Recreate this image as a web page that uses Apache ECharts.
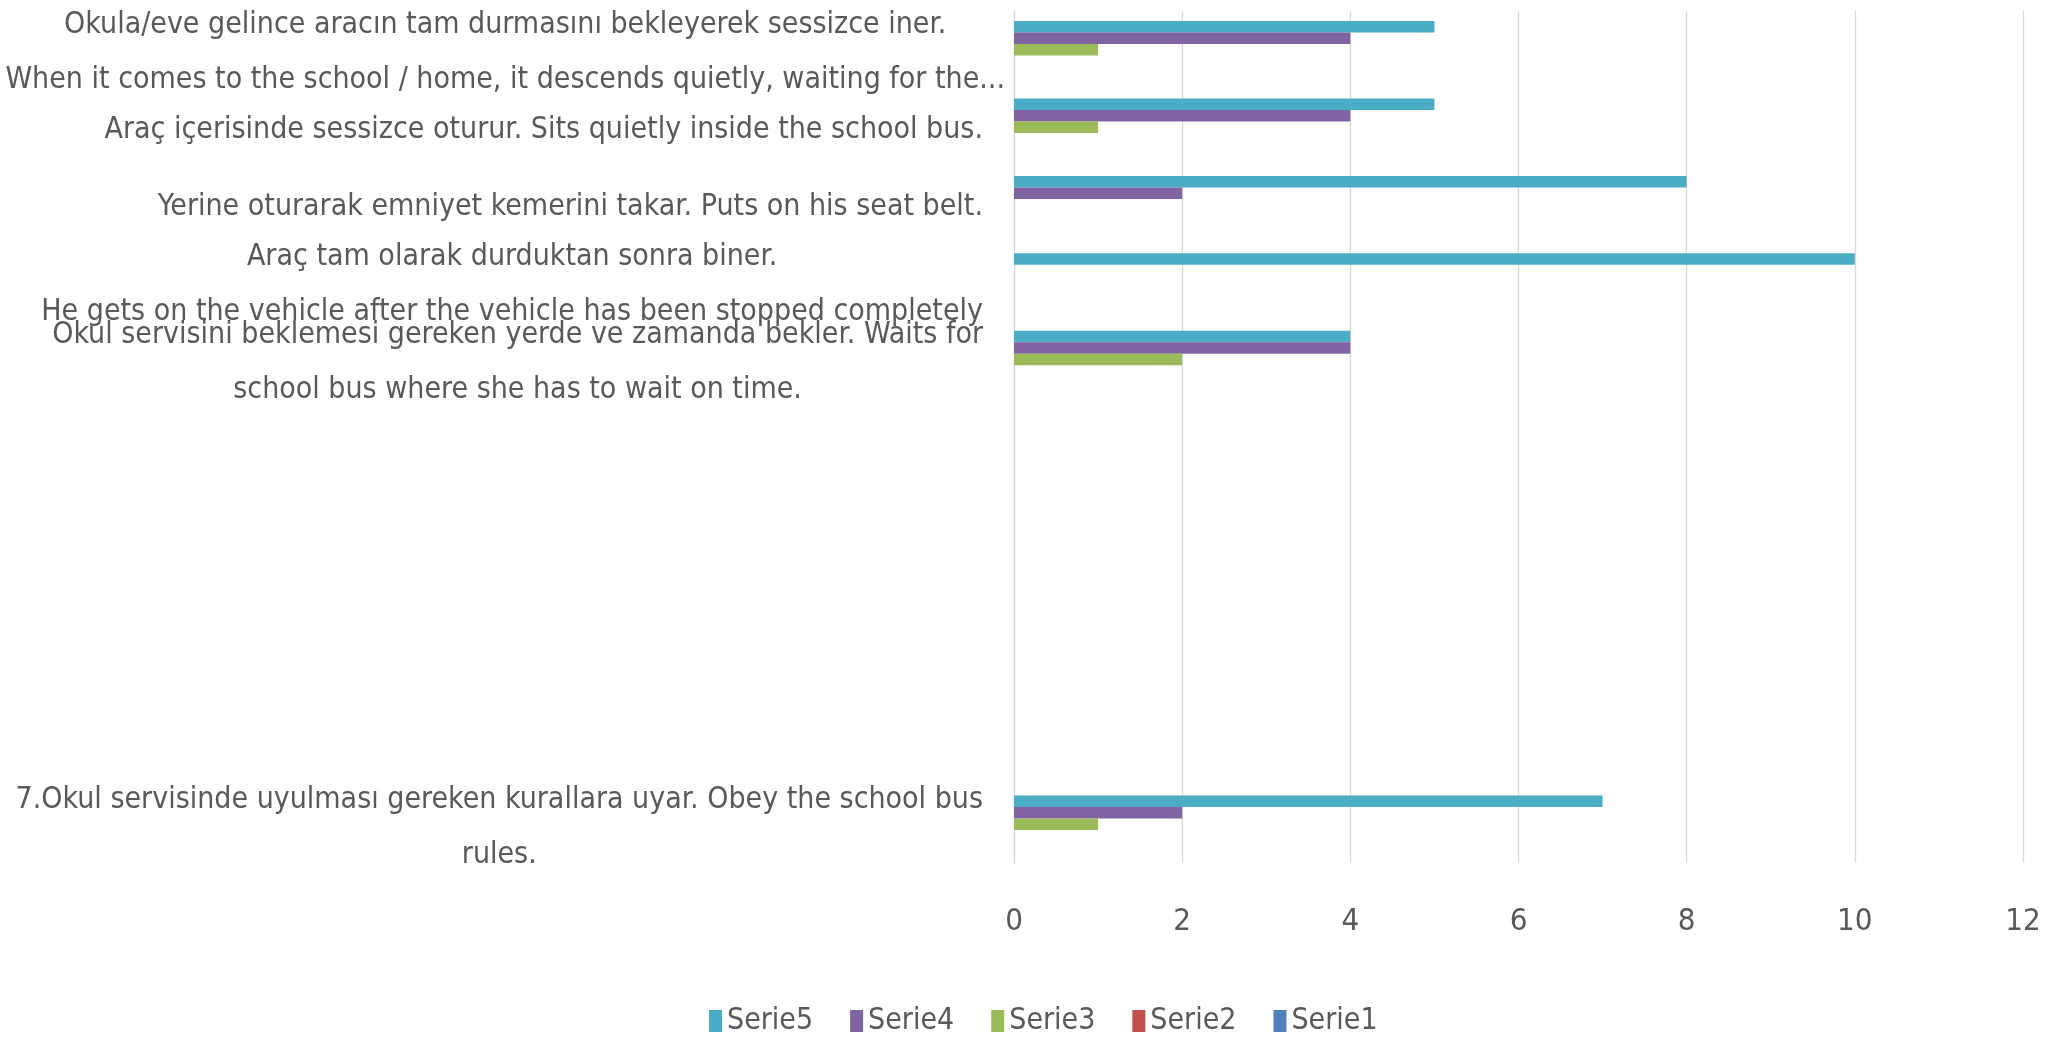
<!DOCTYPE html>
<html>
<head>
<meta charset="utf-8">
<script src="https://cdn.jsdelivr.net/npm/echarts@6/dist/echarts.min.js"></script>
<style>
  html, body { margin: 0; padding: 0; background: #fff; }
  #main { width: 2065px; height: 1038px; }
</style>
</head>
<body>
<div id="main"></div>
<script>
// categories from bottom to top (Excel order)
var categories = [
  '7.Okul servisinde uyulması gereken kurallara uyar. Obey the school bus\nrules.',
  '',
  '',
  '',
  '',
  '',
  'Okul servisini beklemesi gereken yerde ve zamanda bekler. Waits for\nschool bus where she has to wait on time.',
  'Araç tam olarak durduktan sonra biner.\nHe gets on the vehicle after the vehicle has been stopped completely',
  'Yerine oturarak emniyet kemerini takar. Puts on his seat belt.',
  'Araç içerisinde sessizce oturur. Sits quietly inside the school bus.',
  'Okula/eve gelince aracın tam durmasını bekleyerek sessizce iner.\nWhen it comes to the school / home, it descends quietly, waiting for the...'
]

var seriesNames = ['Serie5', 'Serie4', 'Serie3', 'Serie2', 'Serie1']
var serie5 = [7, 0, 0, 0, 0, 0, 4, 10, 8, 5, 5]
var serie4 = [2, 0, 0, 0, 0, 0, 4, 0, 2, 4, 4]
var serie3 = [1, 0, 0, 0, 0, 0, 2, 0, 0, 1, 1]
var serie2 = [0, 0, 0, 0, 0, 0, 0, 0, 0, 0, 0]
var serie1 = [0, 0, 0, 0, 0, 0, 0, 0, 0, 0, 0]
var xTicks = [0, 2, 4, 6, 8, 10, 12]

var colors = ['#4BACC6', '#8064A2', '#9BBB59', '#C0504D', '#4F81BD']
var font = "'Liberation Sans Narrow', 'DejaVu Sans Condensed', 'Open Sans', sans-serif"
var textColor = '#595959'

var chart = echarts.init(document.getElementById('main'))

var values = [serie5, serie4, serie3, serie2, serie1]
var series = seriesNames.map(function(name, i) {
  return {
    name: name,
    type: 'bar',
    data: values[i],
    barWidth: 11.5,
    barGap: '0%',
    itemStyle: { color: colors[i] },
  }
})

// the long top label sits a bit closer to the axis in the original
var yData = categories.map(function(c, i) {
  if (i === categories.length - 1) {
    return { value: c, textStyle: { padding: [6, -22, 0, 0] } }
  }
  return c
})

var option = {
  animation: false,
  color: colors,
  textStyle: { fontFamily: font },
  legend: {
    data: seriesNames,
    top: 1001,
    left: 704,
    itemWidth: 13,
    itemHeight: 22,
    itemGap: 37,
    icon: 'rect',
    textStyle: { color: textColor, fontSize: 30, fontFamily: font },
  },
  grid: {
    left: 1014,
    right: 42,
    top: 11,
    bottom: 175,
    containLabel: false,
    outerBoundsMode: 'none',
  },
  xAxis: {
    type: 'value',
    min: xTicks[0],
    max: xTicks[xTicks.length - 1],
    interval: 2,
    axisLine: { show: false },
    axisTick: { show: false },
    splitLine: { lineStyle: { color: '#D9D9D9', width: 1.3 } },
    axisLabel: { color: textColor, fontSize: 31, margin: 43, fontFamily: font },
  },
  yAxis: {
    type: 'category',
    data: yData,
    axisLine: { show: true, lineStyle: { color: '#D9D9D9', width: 1.3 } },
    axisTick: { show: false },
    axisLabel: {
      interval: 0,
      margin: 31,
      padding: [6, 0, 0, 0],
      formatter: function(value, index) {
        var txt = categories[index]
        if (!txt) return ''
        return txt.split('\n').map(function(s) { return '{c|' + s + '}' }).join('\n')
      },
      rich: {
        c: {
          align: 'center',
          color: textColor,
          fontSize: 30,
          lineHeight: 55,
          fontFamily: font,
        },
      },
    },
  },
  series: series,
}

chart.setOption(option)
window.addEventListener('resize', function() {
  chart.resize()
})
</script>
</body>
</html>
